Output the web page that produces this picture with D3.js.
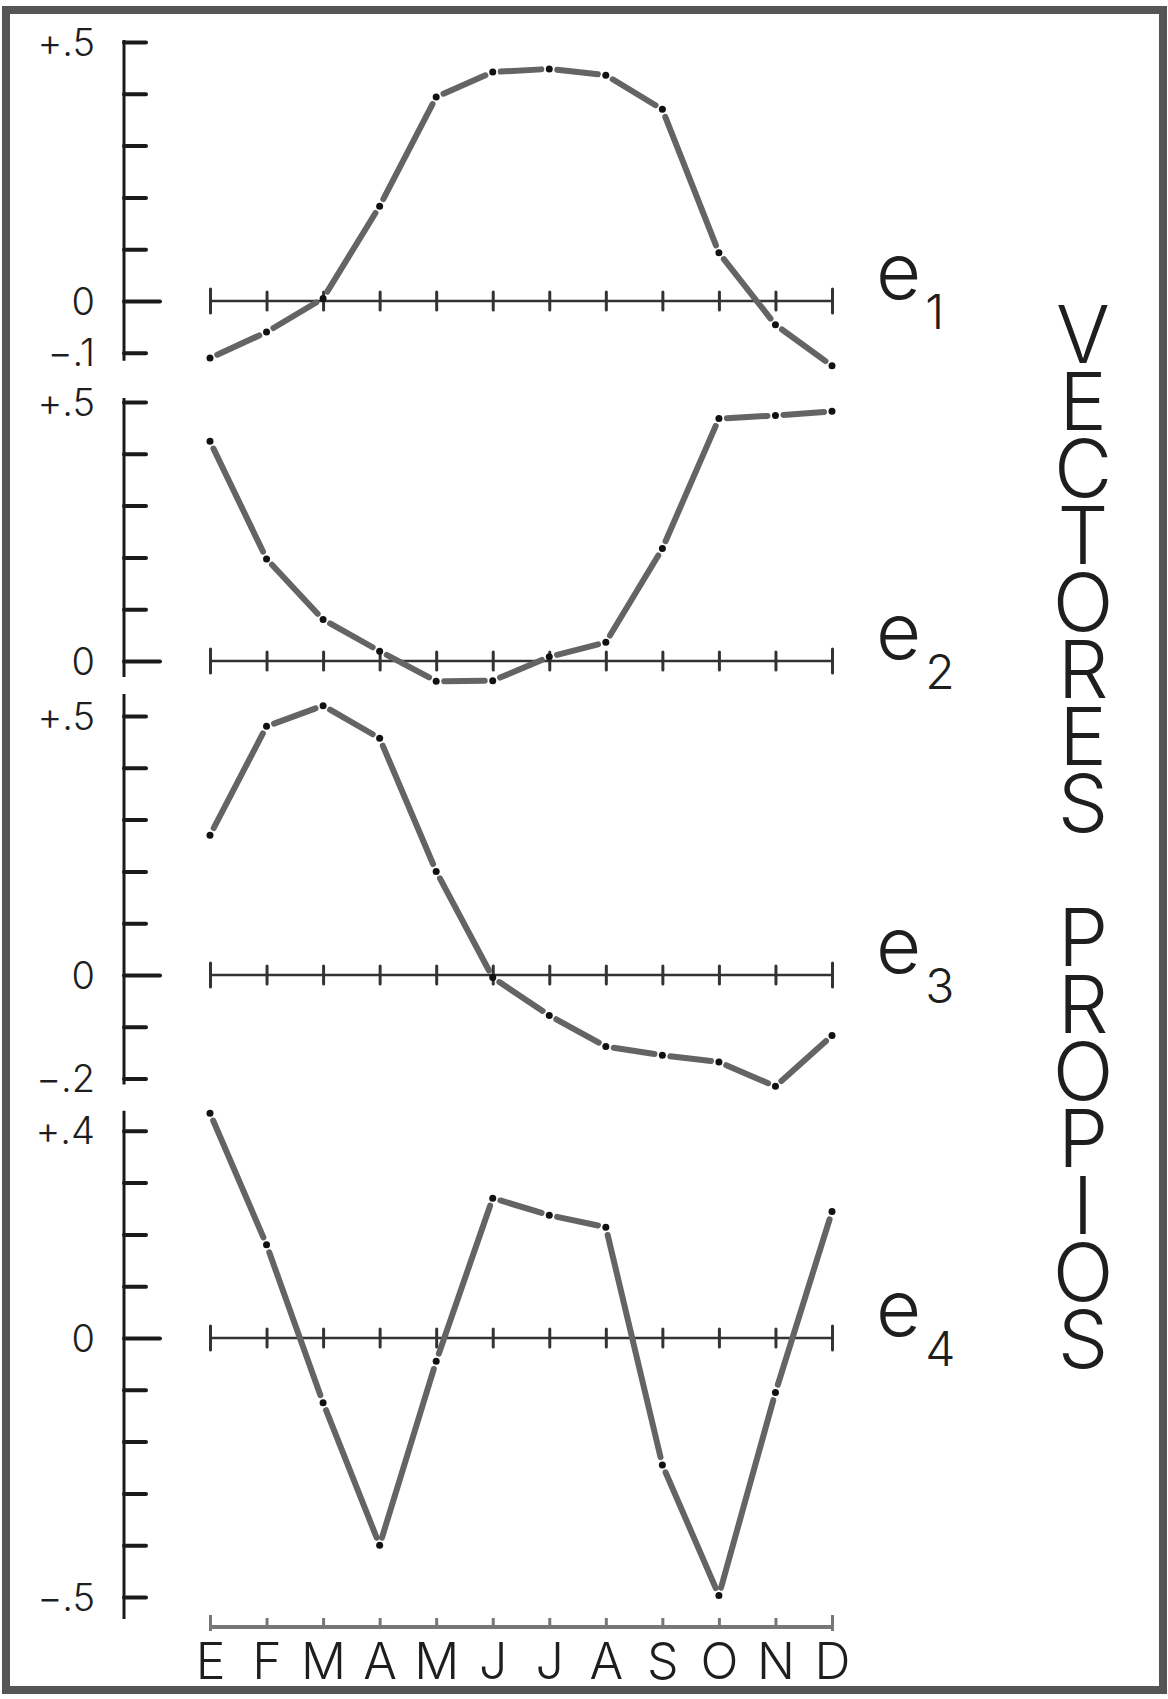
<!DOCTYPE html>
<html>
<head>
<meta charset="utf-8">
<script src="https://cdn.jsdelivr.net/npm/d3@7"></script>
<style>
  html, body { margin: 0; padding: 0; background: #fff; }
  svg { display: block; }
  text { font-family: Inter, "DejaVu Sans", sans-serif; font-weight: 300; fill: #1e1e1e; }
</style>
</head>
<body>
<div id="chart"></div>
<script>
// months (Spanish initials) and the four eigenvectors
const months = ['E', 'F', 'M', 'A', 'M', 'J', 'J', 'A', 'S', 'O', 'N', 'D']

const e1 = [-0.11, -0.06, 0.005, 0.183, 0.394, 0.442, 0.448, 0.436, 0.37, 0.093, -0.046, -0.125]
const e2 = [0.424, 0.197, 0.08, 0.019, -0.039, -0.038, 0.008, 0.036, 0.217, 0.468, 0.474, 0.482]
const e3 = [0.27, 0.48, 0.52, 0.457, 0.2, -0.005, -0.078, -0.138, -0.155, -0.168, -0.215, -0.117]
const e4 = [0.434, 0.18, -0.125, -0.4, -0.045, 0.27, 0.237, 0.214, -0.245, -0.497, -0.105, 0.244]

const ticks1 = [-0.1, 0, 0.1, 0.2, 0.3, 0.4, 0.5]
const ticks2 = [0, 0.1, 0.2, 0.3, 0.4, 0.5]
const ticks3 = [-0.2, -0.1, 0, 0.1, 0.2, 0.3, 0.4, 0.5]
const ticks4 = [-0.5, -0.4, -0.3, -0.2, -0.1, 0, 0.1, 0.2, 0.3, 0.4]

const labelValues1 = [0.5, 0, -0.1]
const labelValues2 = [0.5, 0]
const labelValues3 = [0.5, 0, -0.2]
const labelValues4 = [0.4, 0, -0.5]
const labelText1 = ['+.5', '0', '\u2212.1']
const labelText2 = ['+.5', '0']
const labelText3 = ['+.5', '0', '\u2212.2']
const labelText4 = ['+.4', '0', '\u2212.5']

const seriesNames = ['1', '2', '3', '4']
const title = 'VECTORES PROPIOS'

// layout
const width = 1168
const height = 1699
const axisX = 124
const unit = 518 // px per 1.0
const zeroYs = [301, 661, 975, 1338]
const axisOverhang = [[2, 8], [4, 16], [22, 6], [20, 22]]
const bottomAxisY = 1627
const ink = '#1a1a1a'
const lineGray = '#646464'

const panels = [
  { values: e1, ticks: ticks1, labelValues: labelValues1, labelText: labelText1 },
  { values: e2, ticks: ticks2, labelValues: labelValues2, labelText: labelText2 },
  { values: e3, ticks: ticks3, labelValues: labelValues3, labelText: labelText3 },
  { values: e4, ticks: ticks4, labelValues: labelValues4, labelText: labelText4 }
].map((p, i) => ({ ...p, name: seriesNames[i], zeroY: zeroYs[i], overhang: axisOverhang[i] }))

const svg = d3.select('#chart').append('svg')
  .attr('width', width)
  .attr('height', height)

// scanned-page frame
svg.append('rect')
  .attr('x', 6).attr('y', 10)
  .attr('width', 1157).attr('height', 1680)
  .attr('fill', 'none')
  .attr('stroke', '#555')
  .attr('stroke-width', 8)

const xScale = d3.scaleLinear().domain([0, months.length - 1]).range([210, 832])

const drawPanel = panel => {
  const y = d3.scaleLinear().domain([-1, 1]).range([panel.zeroY + unit, panel.zeroY - unit])
  const g = svg.append('g')

  // vertical value axis, ticks pointing right
  const yAxis = g.append('g')
    .attr('transform', `translate(${axisX},0)`)
    .call(d3.axisRight(y).tickValues(panel.ticks).tickSize(22).tickFormat(''))
  yAxis.select('.domain').remove()
  yAxis.selectAll('.tick line')
    .attr('stroke', ink)
    .attr('stroke-width', 4)
    .attr('stroke-linecap', 'round')
    .attr('x2', d => (d === 0 ? 36 : 22))
  yAxis.append('line')
    .attr('y1', y(d3.max(panel.ticks)) - panel.overhang[0])
    .attr('y2', y(d3.min(panel.ticks)) + panel.overhang[1])
    .attr('stroke', ink)
    .attr('stroke-width', 3)

  g.selectAll('text.ylab')
    .data(panel.labelValues)
    .join('text')
    .attr('class', 'ylab')
    .attr('x', 95)
    .attr('y', d => y(d))
    .attr('dy', '0.36em')
    .attr('text-anchor', 'end')
    .attr('font-size', 38)
    .text((d, i) => panel.labelText[i])

  // zero line with month ticks crossing it
  const zeroAxis = g.append('g')
    .attr('transform', `translate(0,${y(0)})`)
    .call(d3.axisBottom(xScale).tickValues(d3.range(months.length)).tickSize(9).tickFormat(''))
  zeroAxis.select('.domain').remove()
  zeroAxis.append('line')
    .attr('x1', xScale(0)).attr('x2', xScale(months.length - 1))
    .attr('stroke', '#333')
    .attr('stroke-width', 2.5)
  zeroAxis.selectAll('.tick line')
    .attr('stroke', '#333')
    .attr('stroke-width', 3)
    .attr('stroke-linecap', 'round')
    .attr('y1', (d, i) => (d === 0 || d === months.length - 1 ? -12 : -9))
    .attr('y2', (d, i) => (d === 0 || d === months.length - 1 ? 12 : 9))

  // dash-dot curve: one dash per month interval, dot at every month
  const pts = panel.values.map((v, i) => [xScale(i), y(v)])
  const segs = d3.pairs(pts).map(([a, b]) => {
    const dx = b[0] - a[0]
    const dy = b[1] - a[1]
    const len = Math.hypot(dx, dy)
    const gap = 8 / len
    return [a[0] + dx * gap, a[1] + dy * gap, b[0] - dx * gap, b[1] - dy * gap]
  })
  g.selectAll('line.seg')
    .data(segs)
    .join('line')
    .attr('class', 'seg')
    .attr('x1', d => d[0]).attr('y1', d => d[1])
    .attr('x2', d => d[2]).attr('y2', d => d[3])
    .attr('stroke', lineGray)
    .attr('stroke-width', 6)
    .attr('stroke-linecap', 'round')
  g.selectAll('circle.pt')
    .data(pts)
    .join('circle')
    .attr('class', 'pt')
    .attr('cx', d => d[0])
    .attr('cy', d => d[1])
    .attr('r', 3.5)
    .attr('fill', '#111')

  // series label e_n
  const label = g.append('text')
    .attr('x', 876)
    .attr('y', y(0) - 2)
    .attr('font-size', 78)
  label.append('tspan').text('e')
  label.append('tspan')
    .attr('font-size', 48)
    .attr('dx', 4)
    .attr('dy', 30)
    .text(panel.name)
}

panels.forEach(drawPanel)

// bottom month axis
const bottomAxis = svg.append('g')
  .attr('transform', `translate(0,${bottomAxisY})`)
  .call(d3.axisBottom(xScale)
    .tickValues(d3.range(months.length))
    .tickSize(-9)
    .tickPadding(16)
    .tickFormat(i => months[i]))
bottomAxis.select('.domain').remove()
bottomAxis.append('line')
  .attr('x1', xScale(0)).attr('x2', xScale(months.length - 1))
  .attr('stroke', '#777')
  .attr('stroke-width', 4)
bottomAxis.selectAll('.tick line')
  .attr('stroke', '#777')
  .attr('stroke-width', 3)
  .attr('y1', (d, i) => (d === 0 || d === months.length - 1 ? 4 : 0))
  .attr('y2', (d, i) => (d === 0 || d === months.length - 1 ? -12 : -9))
bottomAxis.selectAll('.tick text')
  .attr('font-family', 'Inter, "DejaVu Sans", sans-serif')
  .attr('font-weight', 300)
  .attr('font-size', 50)
  .attr('fill', '#2a2a2a')

// vertical stacked title
svg.append('text')
  .attr('text-anchor', 'middle')
  .attr('font-size', 80)
  .selectAll('tspan')
  .data(title.split(''))
  .join('tspan')
  .attr('x', 1083)
  .attr('y', (d, i) => 363 + i * 67)
  .text(d => d)
</script>
</body>
</html>
